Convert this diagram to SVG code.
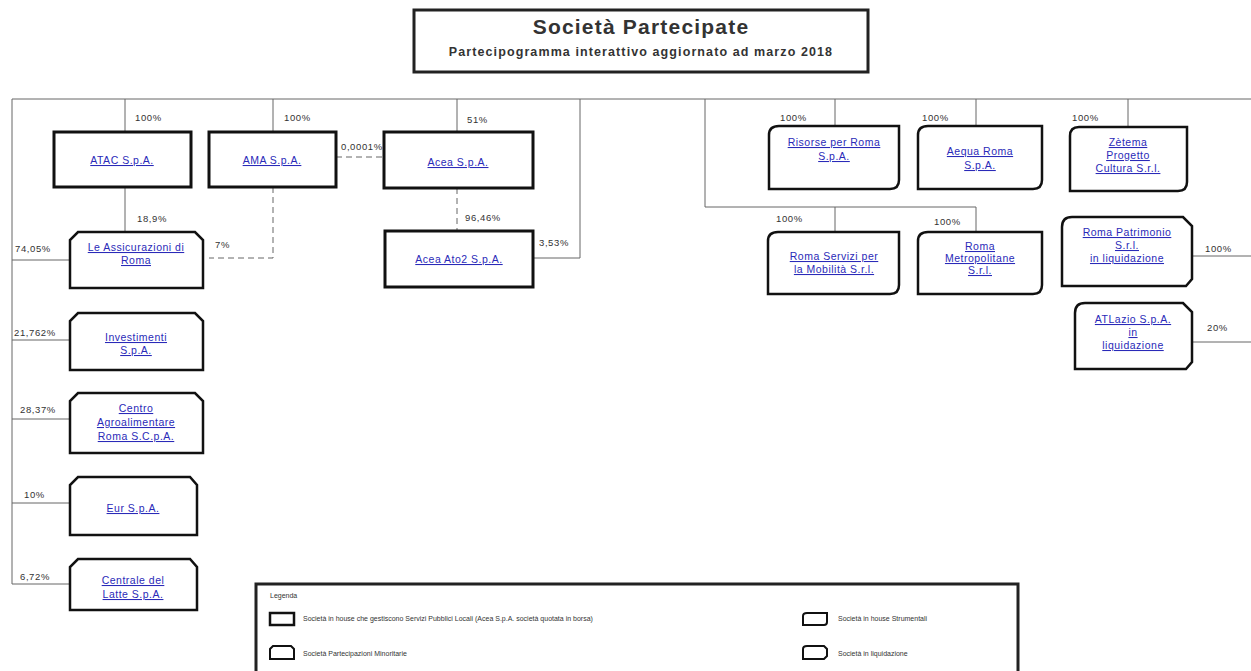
<svg xmlns="http://www.w3.org/2000/svg" width="1251" height="671" viewBox="0 0 1251 671">
<style>
.bg{fill:#fff}
.ln{stroke:#666;stroke-width:1;fill:none}
.dl{stroke:#666;stroke-width:1;fill:none;stroke-dasharray:6,4}
.spl{fill:#fff;stroke:#111;stroke-width:3}
.str{fill:#fff;stroke:#111;stroke-width:2.5}
.min{fill:#fff;stroke:#111;stroke-width:2.5}
.liq{fill:#fff;stroke:#111;stroke-width:2.5}
.lk{font-family:"Liberation Sans",Arial,sans-serif;font-size:10.5px;letter-spacing:0.5px;fill:#2a2ab8;text-decoration:underline;text-anchor:middle}
.pc{font-family:"Liberation Sans",Arial,sans-serif;font-size:9.5px;letter-spacing:0.6px;fill:#333}
.lg{font-family:"Liberation Sans",Arial,sans-serif;font-size:7px;fill:#333}
</style>
<rect class="bg" x="0" y="0" width="1251" height="671"/>
<g id="title">
<rect x="414" y="10" width="454" height="62" fill="#fff" stroke="#222" stroke-width="3"/>
<text x="641" y="34" font-family="Liberation Sans,Arial,sans-serif" font-size="21" letter-spacing="1.2" font-weight="bold" fill="#333" text-anchor="middle">Società Partecipate</text>
<text x="641" y="56" font-family="Liberation Sans,Arial,sans-serif" font-size="12.5" letter-spacing="1.1" font-weight="bold" fill="#333" text-anchor="middle">Partecipogramma interattivo aggiornato ad marzo 2018</text>
</g>
<g id="connectors">
<path class="ln" d="M12 99 H1251"/>
<path class="ln" d="M12 99 V584"/>
<path class="ln" d="M125 99 V131"/>
<path class="ln" d="M273 99 V131"/>
<path class="ln" d="M457 99 V131"/>
<path class="ln" d="M580 99 V258 H533"/>
<path class="ln" d="M125 187 V232"/>
<path class="dl" d="M457 188 V230"/>
<path class="dl" d="M336 157 H383"/>
<path class="dl" d="M273 187 V258 H209"/>
<path class="ln" d="M12 260 H70"/>
<path class="ln" d="M12 340 H70"/>
<path class="ln" d="M12 419 H70"/>
<path class="ln" d="M12 503 H70"/>
<path class="ln" d="M12 584 H70"/>
<path class="ln" d="M705 99 V207 H976"/>
<path class="ln" d="M835 99 V126"/>
<path class="ln" d="M976 99 V126"/>
<path class="ln" d="M1128 99 V126"/>
<path class="ln" d="M835 207 V232"/>
<path class="ln" d="M976 207 V232"/>
<path class="ln" d="M1192 256 H1251"/>
<path class="ln" d="M1192 342 H1251"/>
<text class="pc" x="135" y="121">100%</text>
<text class="pc" x="284" y="121">100%</text>
<text class="pc" x="467" y="123">51%</text>
<text class="pc" x="341" y="150">0,0001%</text>
<text class="pc" x="137" y="222">18,9%</text>
<text class="pc" x="215" y="248">7%</text>
<text class="pc" x="465" y="221">96,46%</text>
<text class="pc" x="539" y="246">3,53%</text>
<text class="pc" x="15" y="252">74,05%</text>
<text class="pc" x="14" y="336">21,762%</text>
<text class="pc" x="20" y="413">28,37%</text>
<text class="pc" x="24" y="498">10%</text>
<text class="pc" x="20" y="580">6,72%</text>
<text class="pc" x="780" y="121">100%</text>
<text class="pc" x="922" y="121">100%</text>
<text class="pc" x="1072" y="121">100%</text>
<text class="pc" x="776" y="222">100%</text>
<text class="pc" x="934" y="225">100%</text>
<text class="pc" x="1205" y="252">100%</text>
<text class="pc" x="1207" y="331">20%</text>
</g>
<g id="atac"><rect class="spl" x="54" y="132" width="137" height="55"/><text class="lk" x="122" y="164">ATAC S.p.A.</text></g>
<g id="ama"><rect class="spl" x="209" y="132" width="127" height="55"/><text class="lk" x="272" y="164">AMA S.p.A.</text></g>
<g id="acea"><rect class="spl" x="384" y="132" width="149" height="56"/><text class="lk" x="458" y="166">Acea S.p.A.</text></g>
<g id="aceaato2"><rect class="spl" x="385" y="231" width="148" height="56"/><text class="lk" x="459" y="263">Acea Ato2 S.p.A.</text></g>
<g id="assicurazioni"><path class="min" d="M78 232 H195 L203 240 V288 H70 V240 Z"/><text class="lk" x="136" y="251">Le Assicurazioni di</text><text class="lk" x="136" y="264">Roma</text></g>
<g id="investimenti"><path class="min" d="M78 313 H195 L203 321 V370 H70 V321 Z"/><text class="lk" x="136" y="341">Investimenti</text><text class="lk" x="136" y="354">S.p.A.</text></g>
<g id="car"><path class="min" d="M78 393 H195 L203 401 V453 H70 V401 Z"/><text class="lk" x="136" y="412">Centro</text><text class="lk" x="136" y="426">Agroalimentare</text><text class="lk" x="136" y="440">Roma S.C.p.A.</text></g>
<g id="eur"><path class="min" d="M78 477 H190 L197 485 V535 H70 V485 Z"/><text class="lk" x="133" y="512">Eur S.p.A.</text></g>
<g id="centrale"><path class="min" d="M78 559 H190 L197 567 V610 H70 V567 Z"/><text class="lk" x="133" y="584">Centrale del</text><text class="lk" x="133" y="598">Latte S.p.A.</text></g>
<g id="risorse"><path class="str" d="M779 126 H899 V180 Q899 189 890 189 H769 V135 Q769 126 779 126 Z"/><text class="lk" x="834" y="146">Risorse per Roma</text><text class="lk" x="834" y="160">S.p.A.</text></g>
<g id="aequa"><path class="str" d="M928 126 H1042 V180 Q1042 189 1033 189 H918 V135 Q918 126 928 126 Z"/><text class="lk" x="980" y="155">Aequa Roma</text><text class="lk" x="980" y="169">S.p.A.</text></g>
<g id="zetema"><path class="str" d="M1079 127 H1187 V182 Q1187 191 1178 191 H1070 V136 Q1070 127 1079 127 Z"/><text class="lk" x="1128" y="146">Zètema</text><text class="lk" x="1128" y="159">Progetto</text><text class="lk" x="1128" y="172">Cultura S.r.l.</text></g>
<g id="romaservizi"><path class="str" d="M778 232 H899 V285 Q899 294 890 294 H768 V241 Q768 232 778 232 Z"/><text class="lk" x="834" y="260">Roma Servizi per</text><text class="lk" x="834" y="273">la Mobilità S.r.l.</text></g>
<g id="romametro"><path class="str" d="M928 232 H1042 V285 Q1042 294 1033 294 H918 V241 Q918 232 928 232 Z"/><text class="lk" x="980" y="250">Roma</text><text class="lk" x="980" y="262">Metropolitane</text><text class="lk" x="980" y="274">S.r.l.</text></g>
<g id="romapatrimonio"><path class="liq" d="M1072 217 H1183 L1192 226 V279 L1186 286 H1062 V227 Q1062 217 1072 217 Z"/><text class="lk" x="1127" y="236">Roma Patrimonio</text><text class="lk" x="1127" y="249">S.r.l.</text><text class="lk" x="1127" y="262">in liquidazione</text></g>
<g id="atlazio"><path class="liq" d="M1085 303 H1183 L1192 312 V362 L1186 369 H1075 V313 Q1075 303 1085 303 Z"/><text class="lk" x="1133" y="323">ATLazio S.p.A.</text><text class="lk" x="1133" y="336">in</text><text class="lk" x="1133" y="349">liquidazione</text></g>
<g id="legend">
<rect x="256" y="584" width="762" height="95" fill="#fff" stroke="#222" stroke-width="3"/>
<text class="lg" x="270" y="598">Legenda</text>
<rect x="270" y="613" width="24" height="12" fill="#fff" stroke="#111" stroke-width="2.5"/>
<text class="lg" x="303" y="621">Società in house che gestiscono Servizi Pubblici Locali (Acea S.p.A. società quotata in borsa)</text>
<path d="M273 646 H291 L294 649 V659 H270 V649 Z" fill="#fff" stroke="#111" stroke-width="2"/>
<text class="lg" x="303" y="656">Società Partecipazioni Minoritarie</text>
<path d="M807 613 H827 V622 Q827 625 824 625 H803 V616 Q803 613 807 613 Z" fill="#fff" stroke="#111" stroke-width="2"/>
<text class="lg" x="838" y="621">Società in house Strumentali</text>
<path d="M807 646 H824 L827 649 V656 L824 659 H803 V649 Q803 646 807 646 Z" fill="#fff" stroke="#111" stroke-width="2"/>
<text class="lg" x="838" y="656">Società in liquidazione</text>
</g>
</svg>
